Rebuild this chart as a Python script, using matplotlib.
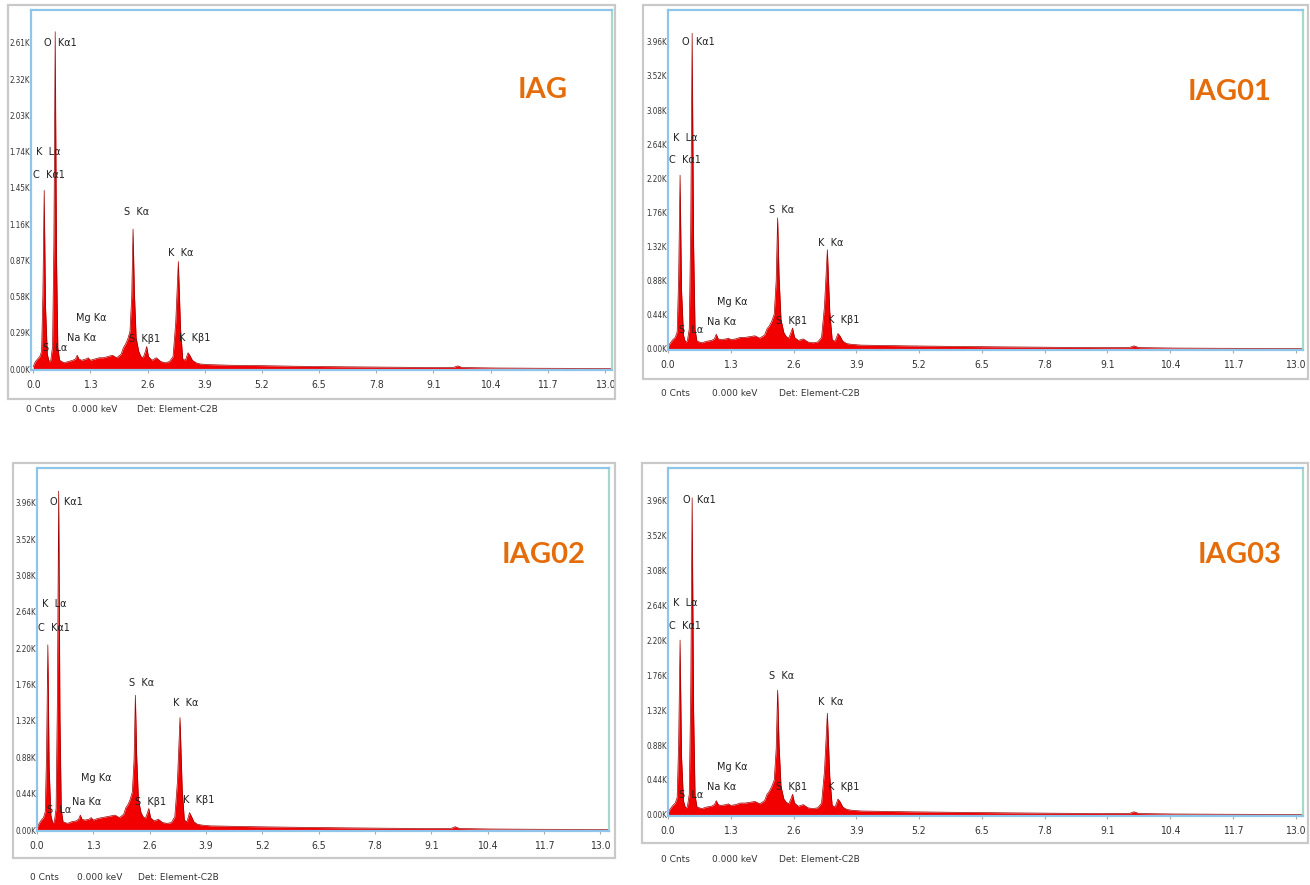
import matplotlib
matplotlib.use("Agg")
import matplotlib.pyplot as plt
from matplotlib.patches import Rectangle

W, H = 1310, 885

# energy grid (keV) shared by all four spectra
energy = [0.00, 0.05, 0.10, 0.15, 0.19, 0.22, 0.25, 0.28, 0.32, 0.36,
          0.40, 0.44, 0.47, 0.50, 0.53, 0.56, 0.60, 0.70, 0.80, 0.90,
          0.96, 1.00, 1.04, 1.10, 1.20, 1.25, 1.30, 1.40, 1.50, 1.60,
          1.70, 1.80, 1.90, 2.00, 2.05, 2.10, 2.15, 2.20, 2.24, 2.27,
          2.30, 2.34, 2.40, 2.45, 2.50, 2.55, 2.58, 2.62, 2.70, 2.80,
          2.90, 3.00, 3.10, 3.18, 3.24, 3.30, 3.35, 3.40, 3.46, 3.52,
          3.56, 3.62, 3.70, 3.80, 4.00, 4.50, 5.00, 6.00, 7.00, 8.00,
          9.00, 9.55, 9.65, 9.75, 10.50, 11.50, 13.20]

# counts in thousands (K)
counts_iag = [0.02, 0.06, 0.08, 0.10, 0.14, 0.60, 1.43, 0.50, 0.12, 0.06,
              0.07, 0.18, 1.00, 2.70, 0.90, 0.17, 0.07, 0.05, 0.06, 0.07,
              0.08, 0.11, 0.08, 0.07, 0.08, 0.09, 0.07, 0.08, 0.09, 0.09,
              0.10, 0.11, 0.09, 0.12, 0.17, 0.20, 0.24, 0.30, 0.58, 1.12,
              0.62, 0.25, 0.14, 0.10, 0.09, 0.14, 0.18, 0.10, 0.07, 0.09,
              0.06, 0.05, 0.06, 0.10, 0.37, 0.86, 0.32, 0.08, 0.07, 0.13,
              0.11, 0.07, 0.05, 0.04, 0.035, 0.03, 0.028, 0.022, 0.018, 0.015,
              0.012, 0.012, 0.025, 0.012, 0.008, 0.006, 0.004]

counts_iag01 = [0.03, 0.08, 0.12, 0.15, 0.22, 0.92, 2.24, 0.76, 0.18, 0.09,
                0.10, 0.26, 1.55, 4.07, 1.35, 0.25, 0.10, 0.08, 0.10, 0.11,
                0.13, 0.19, 0.13, 0.12, 0.13, 0.14, 0.12, 0.13, 0.15, 0.15,
                0.16, 0.17, 0.14, 0.18, 0.26, 0.30, 0.36, 0.45, 0.88, 1.69,
                0.93, 0.38, 0.21, 0.16, 0.14, 0.22, 0.27, 0.15, 0.11, 0.13,
                0.09, 0.08, 0.09, 0.15, 0.55, 1.28, 0.48, 0.12, 0.10, 0.20,
                0.17, 0.10, 0.07, 0.06, 0.05, 0.045, 0.04, 0.033, 0.027, 0.022,
                0.018, 0.018, 0.04, 0.018, 0.012, 0.009, 0.006]

counts_iag02 = [0.03, 0.08, 0.12, 0.15, 0.22, 0.92, 2.24, 0.76, 0.18, 0.09,
                0.10, 0.26, 1.55, 4.10, 1.35, 0.25, 0.10, 0.08, 0.10, 0.11,
                0.13, 0.18, 0.13, 0.12, 0.13, 0.15, 0.12, 0.14, 0.15, 0.16,
                0.17, 0.18, 0.15, 0.19, 0.27, 0.31, 0.37, 0.46, 0.85, 1.63,
                0.90, 0.37, 0.21, 0.16, 0.14, 0.21, 0.26, 0.15, 0.11, 0.13,
                0.09, 0.08, 0.09, 0.16, 0.58, 1.36, 0.50, 0.12, 0.10, 0.21,
                0.17, 0.10, 0.07, 0.06, 0.05, 0.045, 0.04, 0.033, 0.027, 0.022,
                0.018, 0.018, 0.04, 0.018, 0.012, 0.009, 0.006]

counts_iag03 = [0.03, 0.08, 0.12, 0.15, 0.22, 0.90, 2.20, 0.74, 0.18, 0.09,
                0.10, 0.26, 1.50, 3.99, 1.32, 0.25, 0.10, 0.08, 0.10, 0.11,
                0.13, 0.18, 0.13, 0.12, 0.13, 0.14, 0.12, 0.13, 0.15, 0.15,
                0.16, 0.17, 0.14, 0.18, 0.26, 0.30, 0.36, 0.44, 0.83, 1.57,
                0.88, 0.36, 0.20, 0.16, 0.14, 0.21, 0.26, 0.15, 0.11, 0.13,
                0.09, 0.08, 0.09, 0.15, 0.55, 1.28, 0.48, 0.12, 0.10, 0.20,
                0.17, 0.10, 0.07, 0.06, 0.05, 0.045, 0.04, 0.033, 0.027, 0.022,
                0.018, 0.018, 0.04, 0.018, 0.012, 0.009, 0.006]

line_names = ["O  K\u03b11", "K  L\u03b1", "C  K\u03b11", "S  K\u03b1", "K  K\u03b1",
              "Mg K\u03b1", "Na K\u03b1", "S  K\u03b21", "K  K\u03b21", "S  L\u03b1"]

# label anchor positions (keV, K counts) per panel
labels_iag = [(0.25, 2.61), (0.07, 1.74), (0.00, 1.55), (2.07, 1.26), (3.07, 0.93),
              (0.98, 0.41), (0.77, 0.25), (2.18, 0.24), (3.32, 0.25), (0.23, 0.17)]
labels_iag01 = [(0.29, 3.96), (0.10, 2.72), (0.02, 2.44), (2.10, 1.79), (3.11, 1.37),
                (1.02, 0.61), (0.81, 0.35), (2.24, 0.36), (3.32, 0.37), (0.23, 0.25)]
labels_iag02 = [(0.30, 3.97), (0.12, 2.74), (0.02, 2.45), (2.12, 1.78), (3.14, 1.54),
                (1.02, 0.63), (0.81, 0.34), (2.26, 0.34), (3.37, 0.36), (0.23, 0.24)]
labels_iag03 = [(0.31, 3.96), (0.10, 2.67), (0.02, 2.38), (2.09, 1.75), (3.11, 1.42),
                (1.01, 0.60), (0.81, 0.35), (2.24, 0.35), (3.31, 0.35), (0.23, 0.25)]

titles = ["IAG", "IAG01", "IAG02", "IAG03"]
x_ticks = [0.0, 1.3, 2.6, 3.9, 5.2, 6.5, 7.8, 9.1, 10.4, 11.7, 13.0]
y_ticks_small = [0.00, 0.29, 0.58, 0.87, 1.16, 1.45, 1.74, 2.03, 2.32, 2.61]
y_ticks_big = [0.00, 0.44, 0.88, 1.32, 1.76, 2.20, 2.64, 3.08, 3.52, 3.96]
footer = ["0 Cnts", "0.000 keV", "Det: Element-C2B"]

# layout in pixels: outer box, plot area, limits, title centre, footer row
panels = [
    dict(counts=counts_iag, labels=labels_iag, yt=y_ticks_small,
         box=(8, 5, 615, 399), area=(31, 10, 612, 370),
         xlim=(-0.05, 13.16), ylim=(-0.008, 2.874),
         title_xy=(543, 90), foot_y=410, foot_x=(26, 72, 137)),
    dict(counts=counts_iag01, labels=labels_iag01, yt=y_ticks_big,
         box=(643, 5, 1308, 379), area=(668, 10, 1303, 350),
         xlim=(0, 13.15), ylim=(-0.013, 4.37),
         title_xy=(1230, 92), foot_y=393, foot_x=(661, 712, 779)),
    dict(counts=counts_iag02, labels=labels_iag02, yt=y_ticks_big,
         box=(13, 463, 615, 858), area=(37, 468, 609, 831),
         xlim=(0, 13.2), ylim=(-0.012, 4.38),
         title_xy=(544, 555), foot_y=878, foot_x=(30, 77, 138)),
    dict(counts=counts_iag03, labels=labels_iag03, yt=y_ticks_big,
         box=(642, 463, 1308, 843), area=(668, 468, 1303, 816),
         xlim=(0, 13.15), ylim=(-0.013, 4.365),
         title_xy=(1240, 555), foot_y=860, foot_x=(661, 712, 779)),
]

small_font = ["Liberation Sans Narrow", "DejaVu Sans"]

fig = plt.figure(figsize=(W / 100, H / 100), dpi=100)
fig.patch.set_facecolor("white")

for p, title in zip(panels, titles):
    x0, y0, x1, y1 = p["box"]
    fig.patches.append(Rectangle((x0 / W, 1 - y1 / H), (x1 - x0) / W, (y1 - y0) / H,
                                 transform=fig.transFigure, fill=False,
                                 edgecolor="#c9c9c9", lw=1.6, zorder=0))

    l, t, r, b = p["area"]
    ax = fig.add_axes([l / W, 1 - b / H, (r - l) / W, (b - t) / H])
    ax.fill_between(energy, 0, p["counts"], color="#f20000", lw=0)
    ax.plot(energy, p["counts"], color="#9a0000", lw=0.5)
    ax.set_xlim(*p["xlim"])
    ax.set_ylim(*p["ylim"])

    ax.set_xticks(x_ticks)
    ax.set_xticklabels([f"{v:.1f}" for v in x_ticks], family=small_font,
                       fontsize=7.5, color="#333333", stretch="condensed")
    ax.set_yticks(p["yt"])
    ax.set_yticklabels([f"{v:.2f}K" for v in p["yt"]], family=small_font,
                       fontsize=5.8, color="#333333", stretch="condensed")
    ax.tick_params(axis="y", length=0, pad=0.8)
    ax.tick_params(axis="x", length=2, color="#aaaaaa", pad=5)

    for side in ["left", "top", "bottom"]:
        ax.spines[side].set_color("#8ec5ea")
        ax.spines[side].set_linewidth(1.6)
    ax.spines["right"].set_color("#a6d9cb")
    ax.spines["right"].set_linewidth(1.6)

    for name, (ex, ey) in zip(line_names, p["labels"]):
        ax.text(ex, ey, name, family=small_font, fontsize=7, color="#222222",
                ha="left", va="center")

    tx, ty = p["title_xy"]
    fig.text(tx / W, 1 - ty / H, title, ha="center", va="center",
             family=["Lato", "DejaVu Sans"], fontweight="bold", fontsize=21,
             color="#e46c0a")

    for fx, s in zip(p["foot_x"], footer):
        fig.text(fx / W, 1 - p["foot_y"] / H, s, ha="left", va="center",
                 family=small_font, fontsize=6.5, color="#333333")

fig.savefig("out.png", dpi=100)
